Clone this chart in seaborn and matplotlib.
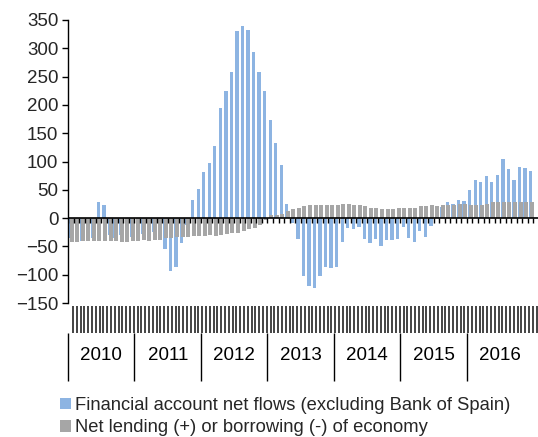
import numpy as np
import pandas as pd
import matplotlib
matplotlib.use("Agg")
import matplotlib.pyplot as plt
import matplotlib.transforms as mtransforms
from matplotlib.patches import Patch
import seaborn as sns

# -----------------------------
# Data (monthly, Jan 2010 - Dec 2016), EUR bn
# -----------------------------
years = ["2010", "2011", "2012", "2013", "2014", "2015", "2016"]

financial_flows = [
    -36, -35, -40, -36, -35, 28, 23, -30, -35, -30, -25, -34,      # 2010
    -30, -28, -33, -25, -30, -55, -94, -86, -44, -12, 32, 51,      # 2011
    81, 98, 127, 195, 225, 259, 330, 340, 332, 293, 259, 225,      # 2012
    174, 132, 93, 25, -8, -37, -102, -120, -124, -102, -86, -88,   # 2013
    -86, -42, -17, -19, -16, -37, -44, -37, -49, -39, -39, -37,    # 2014
    -15, -35, -43, -22, -34, -14, 8, 20, 28, 25, 32, 31,           # 2015
    49, 67, 64, 74, 64, 76, 105, 86, 67, 91, 88, 84,               # 2016
]

net_lending = [
    -43, -42, -40, -40, -40, -40, -40, -41, -41, -43, -43, -41,    # 2010
    -40, -38, -40, -38, -38, -35, -35, -33, -33, -33, -31, -31,    # 2011
    -31, -29, -31, -29, -28, -27, -26, -22, -20, -18, -12, -4,     # 2012
    5, 6, 7, 13, 16, 18, 21, 23, 23, 23, 23, 23,                   # 2013
    23, 25, 25, 23, 23, 21, 18, 18, 16, 16, 16, 18,                # 2014
    18, 18, 18, 21, 21, 23, 22, 23, 23, 23, 25, 25,                # 2015
    23, 23, 23, 25, 28, 28, 28, 28, 28, 28, 28, 28,                # 2016
]

label_blue = "Financial account net flows (excluding Bank of Spain)"
label_gray = "Net lending (+) or borrowing (-) of economy"

color_blue = "#8DB4E2"
color_gray = "#A6A6A6"

n_months = len(financial_flows)
df = pd.DataFrame({
    "pos": np.arange(n_months),
    "flows": financial_flows,
    "lending": net_lending,
})

# -----------------------------
# Figure
# -----------------------------
sns.set_theme(style="white")
plt.rcParams["font.family"] = ["Liberation Sans", "DejaVu Sans"]

W, H = 538, 437
fig = plt.figure(figsize=(W / 100, H / 100), dpi=100)
ax = fig.add_axes([68 / W, 1 - 303 / H, 1 - 68 / W, 283 / H])

sns.barplot(data=df, x="pos", y="flows", native_scale=True, width=0.6,
            color=color_blue, saturation=1, errorbar=None, ax=ax,
            linewidth=0, zorder=2)
df["pos_gray"] = df["pos"] + 0.18
sns.barplot(data=df, x="pos_gray", y="lending", native_scale=True, width=0.72,
            color=color_gray, saturation=1, errorbar=None, ax=ax,
            linewidth=0, zorder=3)

slot_px = 5.54
ax.set_xlim(-0.5, -0.5 + (W - 68) / slot_px)
ax.set_ylim(-150, 350)
ax.set_yticks(np.arange(-150, 351, 50))
ax.set_xticks([])
ax.set_xlabel("")
ax.set_ylabel("")
ax.tick_params(axis="y", direction="out", length=4, width=1, color="black",
               labelsize=13.5, pad=3, left=True)
for side in ["top", "right", "bottom"]:
    ax.spines[side].set_visible(False)
ax.spines["left"].set_color("black")
ax.spines["left"].set_linewidth(1)

# zero line with small month ticks
ax.axhline(0, color="black", lw=1.2, zorder=5)
ax.vlines(np.arange(n_months + 1) - 0.5, -8, 0, color="black", lw=1, zorder=5)

# category axis below the plot: month marks, year separators and labels
trans = mtransforms.blended_transform_factory(ax.transData, ax.transAxes)
mark_x = np.arange(0.4, ax.get_xlim()[1], 0.686)
ax.vlines(mark_x, -0.106, -0.01, color="#111111", lw=1.1, transform=trans,
          clip_on=False)
sep_x = np.arange(0, len(years)) * 12 - 0.5
ax.vlines(sep_x, -0.275, -0.106, color="black", lw=1, transform=trans,
          clip_on=False)
for k, yr in enumerate(years):
    ax.text(k * 12 + 5.5, -0.186, yr, transform=trans, ha="center",
            va="center", fontsize=13.5, color="black")

handles = [Patch(facecolor=color_blue, edgecolor="none"),
           Patch(facecolor=color_gray, edgecolor="none")]
fig.legend(handles, [label_blue, label_gray], loc="upper left",
           bbox_to_anchor=(60 / W, 1 - 397 / H), frameon=False,
           fontsize=13.2, handlelength=0.62, handleheight=0.62,
           handletextpad=0.2, labelspacing=0.3, borderpad=0,
           borderaxespad=0)

fig.savefig("out.png", dpi=100)
